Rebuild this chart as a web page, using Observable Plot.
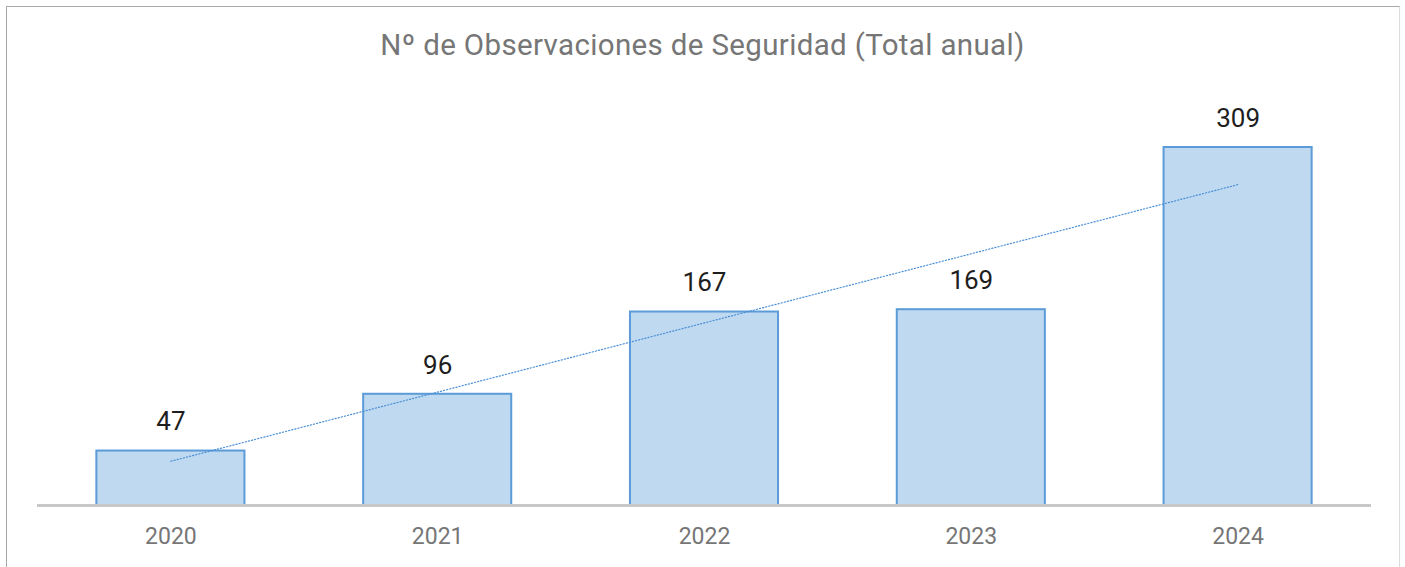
<!DOCTYPE html>
<html>
<head>
<meta charset="utf-8">
<script src="https://cdn.jsdelivr.net/npm/d3@7"></script>
<script src="https://cdn.jsdelivr.net/npm/@observablehq/plot@0.6"></script>
<style>
  html, body { margin: 0; padding: 0; background: #fff; }
  #wrap { position: relative; width: 1405px; height: 567px; overflow: hidden; font-family: Roboto, "Open Sans", sans-serif; }
  #frame { position: absolute; left: 6px; top: 6px; width: 1394px; height: 600px;
           border-left: 1.5px solid #a8a8a8; border-top: 1.5px solid #a8a8a8; border-right: 1.5px solid #dcdcdc; box-sizing: border-box; }
  #title { position: absolute; left: 0; top: 28px; width: 1405px; text-align: center;
           font-size: 29.5px; color: #767676; font-weight: 400; letter-spacing: 0.35px; }
  #chart { position: absolute; left: 0; top: 80px; }
</style>
</head>
<body>
<div id="wrap">
  <div id="frame"></div>
  <div id="title">Nº de Observaciones de Seguridad (Total anual)</div>
  <div id="chart"></div>
</div>
<script>
const years = ["2020", "2021", "2022", "2023", "2024"];
const totals = [47, 96, 167, 169, 309];

const data = years.map((y, i) => ({year: y, total: totals[i]}));

// linear trend (least squares over year index)
const xs = years.map((_, i) => i + 1);
const mx = d3.mean(xs), my = d3.mean(totals);
const slope = d3.sum(xs, (x, i) => (x - mx) * (totals[i] - my)) / d3.sum(xs, x => (x - mx) ** 2);
const intercept = my - slope * mx;
const trend = years.map((y, i) => ({year: y, value: intercept + slope * xs[i]}));

const chart = Plot.plot({
  width: 1405,
  height: 487,
  marginLeft: 37,
  marginRight: 34,
  marginTop: 67,
  marginBottom: 62,
  style: {fontFamily: "Roboto, 'Open Sans', sans-serif", background: "transparent", overflow: "visible"},
  x: {domain: years, paddingInner: 0.445, paddingOuter: 0.2225, round: false, label: null},
  y: {domain: [0, 309], axis: null},
  marks: [
    Plot.barY(data, {x: "year", y: "total", fill: "#bfd9f0", stroke: "#5b9bd8", strokeWidth: 2}),
    Plot.ruleY([0], {stroke: "#c8c8c8", strokeWidth: 3}),
    Plot.line(trend, {x: "year", y: "value", stroke: "#4a8fd6", strokeWidth: 1.2, strokeDasharray: "1.2,2"}),
    Plot.text(data, {x: "year", y: "total", text: d => String(d.total), dy: -29, fontSize: 26, fill: "#1e1e1e"}),
    Plot.axisX({tickSize: 0, tickPadding: 22, fontSize: 23, color: "#767676", style: {letterSpacing: "0.8px"}})
  ]
});
document.getElementById("chart").appendChild(chart);
</script>
</body>
</html>
